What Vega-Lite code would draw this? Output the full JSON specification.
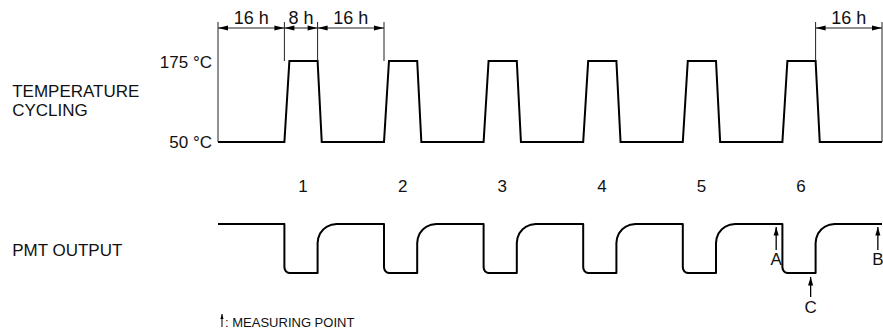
{
  "$schema": "https://vega.github.io/schema/vega-lite/v6.json",
  "width": 883,
  "height": 332,
  "padding": 0,
  "autosize": {"type": "none"},
  "background": "white",
  "config": {"view": {"stroke": null}, "text": {"font": "Liberation Sans", "color": "#111"}},
  "datasets": {
    "temp": [
      {"i":0,"t":0,"v":47.5},
      {"i":1,"t":16,"v":47.5},{"i":2,"t":17.2,"v":67.75},{"i":3,"t":24,"v":67.75},{"i":4,"t":25,"v":47.5},
      {"i":5,"t":40,"v":47.5},{"i":6,"t":41.2,"v":67.75},{"i":7,"t":48,"v":67.75},{"i":8,"t":49,"v":47.5},
      {"i":9,"t":64,"v":47.5},{"i":10,"t":65.2,"v":67.75},{"i":11,"t":72,"v":67.75},{"i":12,"t":73,"v":47.5},
      {"i":13,"t":88,"v":47.5},{"i":14,"t":89.2,"v":67.75},{"i":15,"t":96,"v":67.75},{"i":16,"t":97,"v":47.5},
      {"i":17,"t":112,"v":47.5},{"i":18,"t":113.2,"v":67.75},{"i":19,"t":120,"v":67.75},{"i":20,"t":121,"v":47.5},
      {"i":21,"t":136,"v":47.5},{"i":22,"t":137.2,"v":67.75},{"i":23,"t":144,"v":67.75},{"i":24,"t":145,"v":47.5},
      {"i":25,"t":160,"v":47.5}
    ],
    "pmt": [
      {"i":0,"t":0,"v":27},
      {"i":1,"t":16,"v":27},{"i":2,"t":16,"v":16.25},{"i":3,"t":16.09,"v":15.68},{"i":4,"t":16.35,"v":15.19},{"i":5,"t":16.74,"v":14.86},{"i":6,"t":17.2,"v":14.75},{"i":7,"t":24,"v":14.75},{"i":8,"t":24,"v":22.25},{"i":9,"t":24.16,"v":23.48},{"i":10,"t":24.61,"v":24.63},{"i":11,"t":25.34,"v":25.61},{"i":12,"t":26.29,"v":26.36},{"i":13,"t":27.39,"v":26.84},{"i":14,"t":28.58,"v":27},
      {"i":15,"t":40,"v":27},{"i":16,"t":40,"v":16.25},{"i":17,"t":40.09,"v":15.68},{"i":18,"t":40.35,"v":15.19},{"i":19,"t":40.74,"v":14.86},{"i":20,"t":41.2,"v":14.75},{"i":21,"t":48,"v":14.75},{"i":22,"t":48,"v":22.25},{"i":23,"t":48.16,"v":23.48},{"i":24,"t":48.61,"v":24.63},{"i":25,"t":49.34,"v":25.61},{"i":26,"t":50.29,"v":26.36},{"i":27,"t":51.39,"v":26.84},{"i":28,"t":52.58,"v":27},
      {"i":29,"t":64,"v":27},{"i":30,"t":64,"v":16.25},{"i":31,"t":64.09,"v":15.68},{"i":32,"t":64.35,"v":15.19},{"i":33,"t":64.74,"v":14.86},{"i":34,"t":65.2,"v":14.75},{"i":35,"t":72,"v":14.75},{"i":36,"t":72,"v":22.25},{"i":37,"t":72.16,"v":23.48},{"i":38,"t":72.61,"v":24.63},{"i":39,"t":73.34,"v":25.61},{"i":40,"t":74.29,"v":26.36},{"i":41,"t":75.39,"v":26.84},{"i":42,"t":76.58,"v":27},
      {"i":43,"t":88,"v":27},{"i":44,"t":88,"v":16.25},{"i":45,"t":88.09,"v":15.68},{"i":46,"t":88.35,"v":15.19},{"i":47,"t":88.74,"v":14.86},{"i":48,"t":89.2,"v":14.75},{"i":49,"t":96,"v":14.75},{"i":50,"t":96,"v":22.25},{"i":51,"t":96.16,"v":23.48},{"i":52,"t":96.61,"v":24.63},{"i":53,"t":97.34,"v":25.61},{"i":54,"t":98.29,"v":26.36},{"i":55,"t":99.39,"v":26.84},{"i":56,"t":100.58,"v":27},
      {"i":57,"t":112,"v":27},{"i":58,"t":112,"v":16.25},{"i":59,"t":112.09,"v":15.68},{"i":60,"t":112.35,"v":15.19},{"i":61,"t":112.74,"v":14.86},{"i":62,"t":113.2,"v":14.75},{"i":63,"t":120,"v":14.75},{"i":64,"t":120,"v":22.25},{"i":65,"t":120.16,"v":23.48},{"i":66,"t":120.61,"v":24.63},{"i":67,"t":121.34,"v":25.61},{"i":68,"t":122.29,"v":26.36},{"i":69,"t":123.39,"v":26.84},{"i":70,"t":124.58,"v":27},
      {"i":71,"t":136,"v":27},{"i":72,"t":136,"v":16.25},{"i":73,"t":136.09,"v":15.68},{"i":74,"t":136.35,"v":15.19},{"i":75,"t":136.74,"v":14.86},{"i":76,"t":137.2,"v":14.75},{"i":77,"t":144,"v":14.75},{"i":78,"t":144,"v":22.25},{"i":79,"t":144.16,"v":23.48},{"i":80,"t":144.61,"v":24.63},{"i":81,"t":145.34,"v":25.61},{"i":82,"t":146.29,"v":26.36},{"i":83,"t":147.39,"v":26.84},{"i":84,"t":148.58,"v":27},
      {"i":85,"t":160,"v":27}
    ],
    "ext": [
      {"t":0,"v1":47.5,"v2":77.5},
      {"t":16,"v1":67.75,"v2":77.5},
      {"t":24,"v1":67.75,"v2":77.5},
      {"t":40,"v1":67.75,"v2":77.5},
      {"t":144,"v1":67.75,"v2":77.5},
      {"t":160,"v1":47.5,"v2":77.5}
    ],
    "dims": [
      {"t1":0,"t2":16,"tm":8,"v":76,"label":"16 h"},
      {"t1":16,"t2":24,"tm":20,"v":76,"label":"8 h"},
      {"t1":24,"t2":40,"tm":32,"v":76,"label":"16 h"},
      {"t1":144,"t2":160,"tm":152,"v":76,"label":"16 h"}
    ],
    "meas": [
      {"t":134.5,"v1":20.5,"v2":26.25,"label":"A","lv":16.75},
      {"t":159,"v1":20.5,"v2":26.25,"label":"B","lv":16.75},
      {"t":142.8,"v1":8.75,"v2":13.75,"label":"C","lv":4.75}
    ],
    "legendArrow": [
      {"t":0.96,"v1":1.25,"v2":4.5}
    ],
    "texts": [
      {"t":-49.6,"v":58.75,"text":"TEMPERATURE","a":"left"},
      {"t":-49.6,"v":54,"text":"CYCLING","a":"left"},
      {"t":-49.6,"v":19,"text":"PMT OUTPUT","a":"left"},
      {"t":-1.45,"v":66,"text":"175 °C","a":"right"},
      {"t":-1.45,"v":46,"text":"50 °C","a":"right"},
      {"t":20.5,"v":35,"text":"1","a":"center"},
      {"t":44.5,"v":35,"text":"2","a":"center"},
      {"t":68.5,"v":35,"text":"3","a":"center"},
      {"t":92.5,"v":35,"text":"4","a":"center"},
      {"t":116.5,"v":35,"text":"5","a":"center"},
      {"t":140.5,"v":35,"text":"6","a":"center"}
    ],
    "legendText": [
      {"t":1.7,"v":1.25,"text":": MEASURING POINT"}
    ]
  },
  "encoding": {
    "x": {"field": "t", "type": "quantitative", "axis": null, "scale": {"domain": [-52.53, 160.24], "nice": false, "zero": false}},
    "y": {"field": "v", "type": "quantitative", "axis": null, "scale": {"domain": [0, 83], "nice": false, "zero": false}}
  },
  "layer": [
    {
      "data": {"name": "temp"},
      "mark": {"type": "line", "color": "#000", "strokeWidth": 2, "strokeJoin": "miter"},
      "encoding": {"order": {"field": "i", "type": "quantitative"}}
    },
    {
      "data": {"name": "pmt"},
      "mark": {"type": "line", "color": "#000", "strokeWidth": 2, "strokeJoin": "round"},
      "encoding": {"order": {"field": "i", "type": "quantitative"}}
    },
    {
      "data": {"name": "ext"},
      "mark": {"type": "rule", "color": "#222", "strokeWidth": 1},
      "encoding": {"y": {"field": "v1", "type": "quantitative"}, "y2": {"field": "v2"}}
    },
    {
      "data": {"name": "dims"},
      "mark": {"type": "rule", "color": "#222", "strokeWidth": 1},
      "encoding": {"x": {"field": "t1", "type": "quantitative"}, "x2": {"field": "t2"}}
    },
    {
      "data": {"name": "dims"},
      "mark": {"type": "point", "filled": true, "color": "#000", "opacity": 1, "size": 100, "shape": "M0,0L2,-0.5L2,0.5Z"},
      "encoding": {"x": {"field": "t1", "type": "quantitative"}}
    },
    {
      "data": {"name": "dims"},
      "mark": {"type": "point", "filled": true, "color": "#000", "opacity": 1, "size": 100, "shape": "M0,0L-2,-0.5L-2,0.5Z"},
      "encoding": {"x": {"field": "t2", "type": "quantitative"}}
    },
    {
      "data": {"name": "dims"},
      "mark": {"type": "text", "fontSize": 18, "align": "center", "baseline": "alphabetic"},
      "encoding": {"x": {"field": "tm", "type": "quantitative"}, "y": {"datum": 77}, "text": {"field": "label"}}
    },
    {
      "data": {"name": "meas"},
      "mark": {"type": "rule", "color": "#000", "strokeWidth": 1.3},
      "encoding": {"y": {"field": "v1", "type": "quantitative"}, "y2": {"field": "v2"}}
    },
    {
      "data": {"name": "meas"},
      "mark": {"type": "point", "filled": true, "color": "#000", "opacity": 1, "size": 72, "shape": "M0,0L-0.6,2L0.6,2Z"},
      "encoding": {"y": {"field": "v2", "type": "quantitative"}}
    },
    {
      "data": {"name": "meas"},
      "mark": {"type": "text", "fontSize": 17, "align": "center", "baseline": "alphabetic"},
      "encoding": {"y": {"field": "lv", "type": "quantitative"}, "text": {"field": "label"}}
    },
    {
      "data": {"name": "legendArrow"},
      "mark": {"type": "rule", "color": "#000", "strokeWidth": 1},
      "encoding": {"y": {"field": "v1", "type": "quantitative"}, "y2": {"field": "v2"}}
    },
    {
      "data": {"name": "legendArrow"},
      "mark": {"type": "point", "filled": true, "color": "#000", "opacity": 1, "size": 16, "shape": "M0,0L-0.8,2.5L0.8,2.5Z"},
      "encoding": {"y": {"field": "v2", "type": "quantitative"}}
    },
    {
      "data": {"name": "texts"},
      "transform": [{"filter": "datum.a === 'left'"}],
      "mark": {"type": "text", "fontSize": 17, "align": "left", "baseline": "alphabetic"},
      "encoding": {"text": {"field": "text"}}
    },
    {
      "data": {"name": "texts"},
      "transform": [{"filter": "datum.a === 'right'"}],
      "mark": {"type": "text", "fontSize": 17, "align": "right", "baseline": "alphabetic"},
      "encoding": {"text": {"field": "text"}}
    },
    {
      "data": {"name": "texts"},
      "transform": [{"filter": "datum.a === 'center'"}],
      "mark": {"type": "text", "fontSize": 17, "align": "center", "baseline": "alphabetic"},
      "encoding": {"text": {"field": "text"}}
    },
    {
      "data": {"name": "legendText"},
      "mark": {"type": "text", "fontSize": 13, "align": "left", "baseline": "alphabetic"},
      "encoding": {"text": {"field": "text"}}
    }
  ]
}
